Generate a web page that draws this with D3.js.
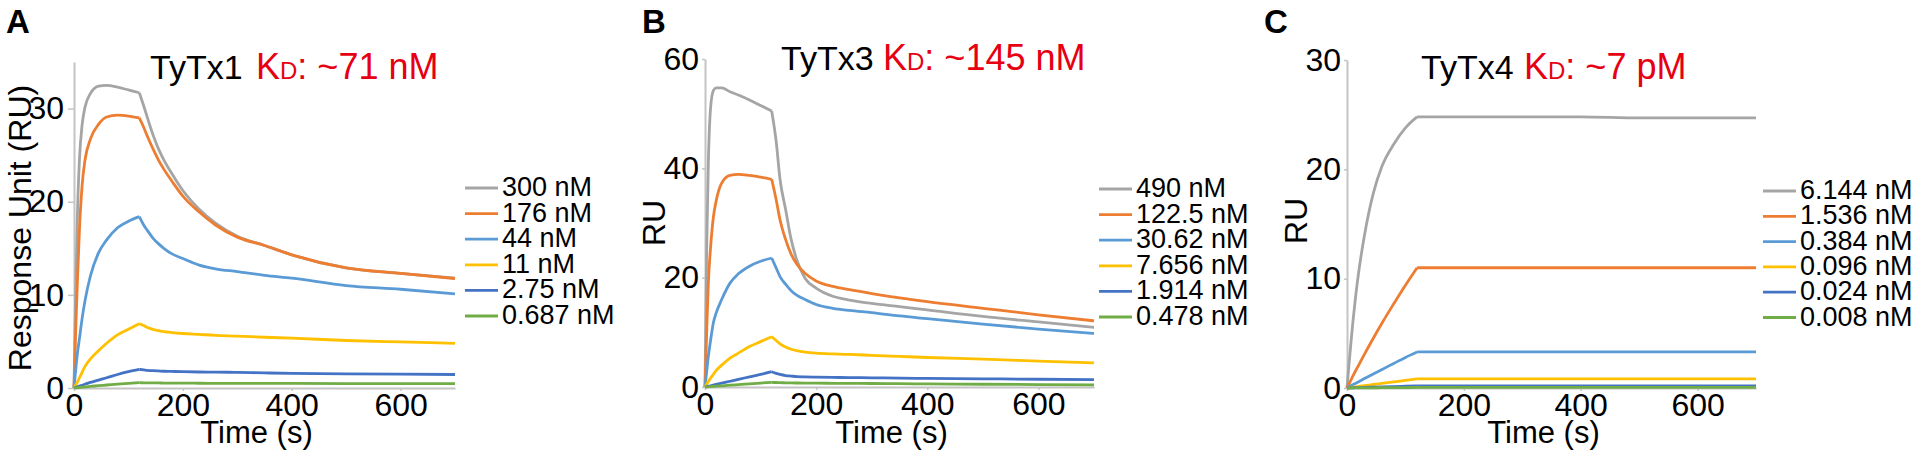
<!DOCTYPE html>
<html>
<head>
<meta charset="utf-8">
<script src="https://cdn.jsdelivr.net/npm/d3@7"></script>
<style>
	body { margin: 0; background: #fff; }
	text { font-family: "Liberation Sans", Arial, sans-serif; }
</style>
</head>
<body>
<div id="chart"></div>
<script>
// sample times (s): association phase, then dissociation phase
var assocTime = [0, 3, 6, 10, 15, 20, 30, 45, 60, 80, 100, 120];
var dissocTime = [120, 128, 135, 145, 155, 165, 180, 200, 230, 260, 300, 350, 400, 500, 600, 700];

var colors = ['#a5a5a5', '#ed7d31', '#5b9bd5', '#ffc000', '#4472c4', '#70ad47'];

// panel A - TyTx1
var concA = ['300 nM', '176 nM', '44 nM', '11 nM', '2.75 nM', '0.687 nM'];
var onA = [
	[0, 10, 18, 24.5, 28.3, 30.1, 31.6, 32.4, 32.5, 32.3, 32.0, 31.7],
	[0, 6, 11, 17, 21.8, 24.4, 26.7, 28.3, 29.1, 29.3, 29.2, 29.0],
	[0, 1.9, 3.6, 5.3, 7.5, 9.3, 12.0, 14.5, 15.9, 17.2, 17.9, 18.4],
	[0, 0.3, 0.6, 1.1, 1.7, 2.3, 3.1, 4.0, 4.8, 5.7, 6.3, 6.9],
	[0, 0.06, 0.12, 0.2, 0.3, 0.4, 0.6, 0.85, 1.1, 1.45, 1.75, 2.0],
	[0, 0.02, 0.04, 0.06, 0.09, 0.12, 0.17, 0.25, 0.32, 0.42, 0.5, 0.57]
];
var offA = [
	[31.7, 30.3, 29.0, 27.2, 25.7, 24.5, 23.0, 21.2, 19.2, 17.7, 16.3, 15.3, 14.3, 12.9, 12.3, 11.8],
	[29.0, 28.0, 27.0, 25.7, 24.5, 23.5, 22.2, 20.6, 18.9, 17.5, 16.2, 15.3, 14.3, 12.9, 12.3, 11.75],
	[18.4, 17.5, 16.9, 16.1, 15.5, 15.0, 14.4, 13.9, 13.2, 12.8, 12.5, 12.1, 11.8, 11.0, 10.6, 10.1],
	[6.9, 6.7, 6.5, 6.3, 6.15, 6.05, 5.95, 5.85, 5.75, 5.65, 5.57, 5.45, 5.35, 5.1, 4.95, 4.8],
	[2.0, 1.95, 1.9, 1.86, 1.83, 1.8, 1.78, 1.75, 1.72, 1.7, 1.68, 1.62, 1.58, 1.52, 1.48, 1.45],
	[0.57, 0.56, 0.55, 0.54, 0.54, 0.53, 0.52, 0.52, 0.51, 0.5, 0.5, 0.5, 0.49, 0.48, 0.48, 0.47]
];

// panel B - TyTx3
var concB = ['490 nM', '122.5 nM', '30.62 nM', '7.656 nM', '1.914 nM', '0.478 nM'];
var onB = [
	[0, 25, 41, 51, 54.2, 54.7, 54.7, 54.0, 53.4, 52.5, 51.5, 50.5],
	[0, 10, 19, 25.5, 31, 34, 37.3, 38.7, 38.9, 38.7, 38.4, 38.0],
	[0, 2.8, 5.6, 8.5, 11.7, 13.5, 16.0, 19.0, 20.7, 22.1, 23.0, 23.6],
	[0, 0.5, 1.0, 1.6, 2.3, 3.0, 4.0, 5.3, 6.2, 7.4, 8.3, 9.2],
	[0, 0.07, 0.14, 0.23, 0.35, 0.47, 0.7, 1.05, 1.4, 1.85, 2.3, 2.8],
	[0, 0.02, 0.04, 0.07, 0.11, 0.15, 0.22, 0.33, 0.44, 0.58, 0.72, 0.86]
];
var offB = [
	[50.5, 45, 38, 32.5, 27, 23.3, 19.9, 18.1, 16.6, 15.9, 15.3, 14.7, 14.1, 12.9, 11.9, 10.9],
	[38.0, 34.3, 30.6, 27.0, 24.3, 22.5, 20.8, 19.4, 18.4, 17.8, 17.1, 16.3, 15.6, 14.4, 13.2, 12.1],
	[23.6, 21.8, 20.2, 18.8, 17.6, 16.8, 16.0, 15.1, 14.4, 14.0, 13.6, 13.0, 12.5, 11.5, 10.6, 9.8],
	[9.2, 8.5, 7.9, 7.3, 6.9, 6.65, 6.4, 6.2, 6.05, 5.95, 5.8, 5.6, 5.4, 5.1, 4.75, 4.4],
	[2.8, 2.5, 2.3, 2.1, 2.0, 1.9, 1.85, 1.8, 1.75, 1.72, 1.68, 1.62, 1.58, 1.5, 1.42, 1.35],
	[0.86, 0.82, 0.8, 0.77, 0.75, 0.73, 0.71, 0.7, 0.68, 0.66, 0.64, 0.6, 0.57, 0.5, 0.45, 0.4]
];

// panel C - TyTx4
var concC = ['6.144 nM', '1.536 nM', '0.384 nM', '0.096 nM', '0.024 nM', '0.008 nM'];
var onC = [
	[0, 1.9, 3.7, 6.0, 8.5, 10.6, 14.0, 17.8, 20.3, 22.3, 23.8, 24.8],
	[0, 0.33, 0.65, 1.08, 1.6, 2.1, 3.1, 4.55, 5.95, 7.7, 9.4, 11.0],
	[0, 0.09, 0.18, 0.3, 0.44, 0.58, 0.87, 1.29, 1.7, 2.25, 2.8, 3.3],
	[0, 0.02, 0.04, 0.07, 0.1, 0.14, 0.21, 0.32, 0.42, 0.56, 0.7, 0.83],
	[0, 0.01, 0.01, 0.02, 0.03, 0.03, 0.05, 0.08, 0.1, 0.13, 0.17, 0.2],
	[0, 0, 0, 0.01, 0.01, 0.01, 0.01, 0.02, 0.03, 0.03, 0.04, 0.05]
];
var offC = [
	[24.8, 24.8, 24.8, 24.8, 24.8, 24.8, 24.8, 24.8, 24.8, 24.8, 24.8, 24.8, 24.8, 24.7, 24.7, 24.7],
	[11.0, 11.0, 11.0, 11.0, 11.0, 11.0, 11.0, 11.0, 11.0, 11.0, 11.0, 11.0, 11.0, 11.0, 11.0, 11.0],
	[3.3, 3.3, 3.3, 3.3, 3.3, 3.3, 3.3, 3.3, 3.3, 3.3, 3.3, 3.3, 3.3, 3.3, 3.3, 3.3],
	[0.83, 0.83, 0.83, 0.83, 0.83, 0.83, 0.83, 0.83, 0.83, 0.83, 0.83, 0.83, 0.83, 0.83, 0.83, 0.83],
	[0.2, 0.2, 0.2, 0.2, 0.2, 0.2, 0.2, 0.2, 0.2, 0.2, 0.2, 0.2, 0.2, 0.2, 0.2, 0.2],
	[0.05, 0.05, 0.05, 0.05, 0.05, 0.05, 0.05, 0.05, 0.05, 0.05, 0.05, 0.05, 0.05, 0.05, 0.05, 0.05]
];

var yTicksA = [0, 10, 20, 30];
var yTicksB = [0, 20, 40, 60];
var yTicksC = [0, 10, 20, 30];
var xTicks = [0, 200, 400, 600];

// layout of each panel (pixels)
var panels = [
	{ letter: 'A', letterX: 6, name: 'TyTx1', kd: ': ~71 nM', titleX: 150, redX: 256, titleY: 79,
		x0: 74, x1: 455, y0: 388, y1: 62, yMax: 35, yTicks: yTicksA, tickSize: 6, tickPad: 4,
		yLabel: 'Response Unit (RU)', yLabelX: 31, yLabelY: 228,
		on: onA, off: offA, conc: concA, legX: 465, legY: 188, legStep: 25.6 },
	{ letter: 'B', letterX: 642, name: 'TyTx3', kd: ': ~145 nM', titleX: 781, redX: 883, titleY: 70,
		x0: 705, x1: 1094, y0: 387, y1: 59, yMax: 60, yTicks: yTicksB, tickSize: 3, tickPad: 3,
		yLabel: 'RU', yLabelX: 665, yLabelY: 223,
		on: onB, off: offB, conc: concB, legX: 1099, legY: 189, legStep: 25.6 },
	{ letter: 'C', letterX: 1264, name: 'TyTx4', kd: ': ~7 pM', titleX: 1421, redX: 1524, titleY: 79,
		x0: 1347, x1: 1756, y0: 388, y1: 60, yMax: 30, yTicks: yTicksC, tickSize: 3, tickPad: 3,
		yLabel: 'RU', yLabelX: 1307, yLabelY: 221,
		on: onC, off: offC, conc: concC, legX: 1763, legY: 191, legStep: 25.3 }
];

var svg = d3.select('#chart')
	.append('svg')
	.attr('width', 1920)
	.attr('height', 459);

panels.forEach(function (p) {

	var x = d3.scaleLinear().domain([0, 700]).range([p.x0, p.x1]);
	var y = d3.scaleLinear().domain([0, p.yMax]).range([p.y0, p.y1]);

	var g = svg.append('g');

	//panel letter
	g.append('text')
		.attr('x', p.letterX)
		.attr('y', 33)
		.attr('font-size', 33)
		.attr('font-weight', 'bold')
		.text(p.letter);

	//title: name in black, KD in red with a small D
	var title = g.append('text')
		.attr('x', p.titleX)
		.attr('y', p.titleY)
		.attr('font-size', 34)
		.attr('fill', '#000');
	title.append('tspan').text(p.name);
	title.append('tspan').attr('x', p.redX).attr('fill', '#e60012').attr('font-size', 36).text('K');
	title.append('tspan').attr('fill', '#e60012').attr('font-size', 24).text('D');
	title.append('tspan').attr('fill', '#e60012').attr('font-size', 36).text(p.kd);

	//axes
	var xAxis = g.append('g')
		.attr('transform', 'translate(0,' + p.y0 + ')')
		.call(d3.axisBottom(x).tickValues(xTicks).tickSize(3).tickPadding(2).tickSizeOuter(0));

	var yAxis = g.append('g')
		.attr('transform', 'translate(' + p.x0 + ',0)')
		.call(d3.axisLeft(y).tickValues(p.yTicks).tickSize(p.tickSize).tickPadding(p.tickPad).tickSizeOuter(0));

	[xAxis, yAxis].forEach(function (a) {
		a.select('.domain').attr('stroke', '#c4c4c4').attr('stroke-width', 2);
		a.selectAll('.tick line').attr('stroke', '#c4c4c4').attr('stroke-width', 1.5);
		a.selectAll('.tick text')
			.attr('font-family', '"Liberation Sans", Arial, sans-serif')
			.attr('font-size', 32)
			.attr('fill', '#000');
	});

	//axis titles
	g.append('text')
		.attr('transform', 'translate(' + p.yLabelX + ',' + p.yLabelY + ') rotate(-90)')
		.attr('text-anchor', 'middle')
		.attr('font-size', 32)
		.text(p.yLabel);

	g.append('text')
		.attr('x', (p.x0 + p.x1) / 2 - 8)
		.attr('y', 443)
		.attr('text-anchor', 'middle')
		.attr('font-size', 31)
		.text('Time (s)');

	//sensorgram curves, association and dissociation drawn as two pieces
	var line = d3.line()
		.x(function (d) { return x(d[0]); })
		.y(function (d) { return y(d[1]); })
		.curve(d3.curveMonotoneX);

	p.on.forEach(function (vals, i) {
		var onPts = assocTime.map(function (t, k) { return [t, vals[k]]; });
		var offPts = dissocTime.map(function (t, k) { return [t, p.off[i][k]]; });
		[onPts, offPts].forEach(function (pts) {
			g.append('path')
				.attr('d', line(pts))
				.attr('fill', 'none')
				.attr('stroke', colors[i])
				.attr('stroke-width', 2.8)
				.attr('stroke-linejoin', 'round');
		});
	});

	//legend
	var leg = g.selectAll('g.legend')
		.data(p.conc)
		.enter()
		.append('g')
		.attr('class', 'legend')
		.attr('transform', function (d, i) { return 'translate(' + p.legX + ',' + (p.legY + i * p.legStep) + ')'; });

	leg.append('line')
		.attr('x1', 0)
		.attr('x2', 33)
		.attr('stroke', function (d, i) { return colors[i]; })
		.attr('stroke-width', 2.8);

	leg.append('text')
		.attr('x', 37)
		.attr('y', 8)
		.attr('font-size', 27)
		.text(function (d) { return d; });
});
</script>
</body>
</html>
